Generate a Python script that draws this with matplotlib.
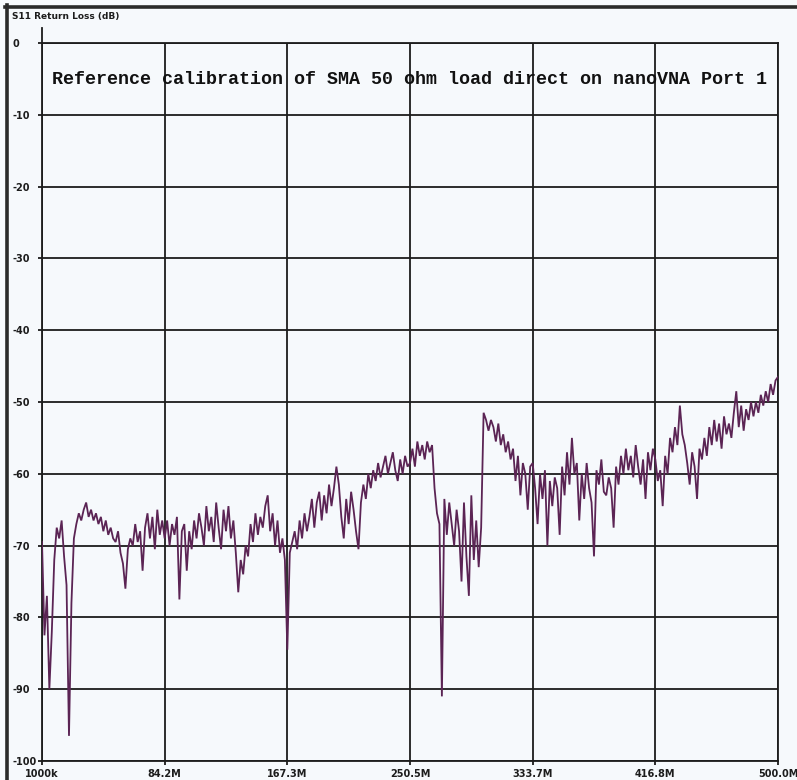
#!/usr/bin/env python3
"""
S11 return loss of an SMA 50 ohm load on nanoVNA port 1
"""

import numpy as np
import matplotlib
matplotlib.use('Agg')
import matplotlib.pyplot as plt
from matplotlib.lines import Line2D

# Sweep: 1 MHz .. 500 MHz, 301 points
f_start = 1.0
f_stop = 500.0
s11_db = [
    -69.5, -82.5, -77.0, -90.0, -82.0, -72.0, -67.5, -69.0, -66.5, -71.5,
    -75.5, -96.5, -78.0, -69.0, -67.0, -65.5, -66.5, -65.0, -64.0, -66.0,
    -65.0, -66.5, -65.5, -67.0, -66.0, -68.0, -66.5, -68.5, -67.5, -69.0,
    -69.5, -68.0, -71.0, -72.5, -76.0, -70.5, -69.0, -70.0, -67.0, -69.5,
    -68.0, -73.5, -67.5, -65.5, -69.0, -66.0, -70.5, -65.0, -68.5, -66.5,
    -69.0, -66.5, -70.0, -67.0, -68.5, -66.0, -77.5, -68.0, -67.0, -73.5,
    -68.0, -70.5, -66.5, -69.0, -65.5, -67.5, -70.0, -64.5, -68.0, -66.0,
    -69.5, -64.0, -67.5, -70.5, -65.0, -68.0, -64.5, -69.0, -66.5, -71.0,
    -76.5, -72.0, -74.0, -70.0, -71.5, -67.0, -69.5, -65.5, -68.5, -66.0,
    -67.5, -64.5, -63.0, -68.0, -65.5, -70.0, -66.5, -71.0, -69.0, -72.0,
    -84.5, -71.0, -69.5, -68.0, -70.5, -66.5, -69.0, -65.5, -68.0, -66.0,
    -63.5, -67.5, -64.0, -62.5, -66.5, -63.0, -65.5, -61.5, -64.5, -62.0,
    -59.0, -61.5, -66.0, -69.0, -63.5, -67.0, -62.5, -65.0, -68.0, -70.5,
    -64.0, -61.5, -63.5, -60.0, -62.0, -59.5, -61.0, -58.5, -60.5, -59.0,
    -57.5, -60.0, -58.5, -57.0, -59.5, -61.0, -58.0, -60.0, -57.5, -59.0,
    -58.5, -56.5, -59.0, -55.5, -57.5, -56.0, -58.0, -55.5, -57.0, -56.0,
    -62.0, -65.5, -67.0, -91.0, -63.5, -68.5, -64.0, -67.0, -70.0, -65.0,
    -68.0, -75.0, -64.0, -71.5, -77.0, -63.0, -72.0, -66.5, -73.0, -67.5,
    -51.5, -52.5, -54.0, -52.5, -53.5, -55.5, -53.0, -56.0, -54.5, -57.0,
    -55.5, -58.0, -56.5, -61.0, -57.5, -63.0, -58.5, -60.0, -65.0, -59.0,
    -58.5, -62.0, -67.0, -60.0, -63.5, -59.5, -70.0, -61.0, -64.5, -60.5,
    -62.0, -68.5, -59.0, -63.0, -57.0, -61.5, -55.0, -60.0, -58.5, -66.5,
    -60.0, -63.5, -58.5, -62.0, -64.0, -71.5, -59.5, -61.5, -58.0, -62.5,
    -63.0, -60.5, -62.0, -67.5, -59.0, -61.5, -57.5, -60.0, -56.5, -59.5,
    -57.5, -60.5, -56.0, -59.0, -61.5, -58.0, -63.5, -57.0, -59.5, -56.5,
    -58.0, -61.0, -59.5, -64.5, -57.5, -60.0, -55.0, -57.0, -53.5, -56.0,
    -50.5, -54.5, -56.0, -58.5, -61.5, -57.0, -59.0, -63.5, -56.5, -58.0,
    -55.0, -57.5, -53.5, -56.0, -52.5, -55.5, -53.0, -56.5, -52.0, -54.5,
    -53.0, -55.0, -51.5, -48.5, -53.5, -50.5, -54.0, -51.0, -52.5, -50.0,
    -52.0, -50.0, -51.5, -49.0, -50.5, -48.5, -50.0, -47.5, -49.0, -47.0,
    -46.5,
]

x_ticks = [1.0, 84.2, 167.3, 250.5, 333.7, 416.8, 500.0]
x_labels = ['1000k', '84.2M', '167.3M', '250.5M', '333.7M', '416.8M', '500.0M']
y_ticks = [0, -10, -20, -30, -40, -50, -60, -70, -80, -90, -100]

title = 'Reference calibration of SMA 50 ohm load direct on nanoVNA Port 1'

W, H = 797, 780
bg = '#f6f9fc'
ink = '#1c1c1c'
trace = '#5b2454'

freq = np.linspace(f_start, f_stop, len(s11_db))

fig = plt.figure(figsize=(W / 100, H / 100), dpi=100, facecolor=bg)

# plot area in pixel coordinates from the screenshot
left, right, top, bottom = 42, 778, 43, 761
ax = fig.add_axes([left / W, 1 - bottom / H, (right - left) / W, (bottom - top) / H])
ax.set_facecolor(bg)

ax.plot(freq, s11_db, color=trace, linewidth=1.3, solid_joinstyle='miter', zorder=3)

ax.set_xlim(f_start, f_stop)
ax.set_ylim(-100, 0)
ax.set_xticks(x_ticks)
ax.set_xticklabels(x_labels)
ax.set_yticks(y_ticks)
ax.set_yticklabels([str(v) for v in y_ticks])

ax.grid(True, color=ink, linewidth=1.3, zorder=1)
ax.set_axisbelow(True)
for side in ['left', 'right', 'top', 'bottom']:
    ax.spines[side].set_color(ink)
    ax.spines[side].set_linewidth(1.3)

ax.tick_params(axis='both', direction='out', length=3, width=1.3, color=ink,
               labelsize=7, labelcolor=ink)
ax.tick_params(axis='y', pad=18)
ax.tick_params(axis='x', pad=3)
for lab in ax.get_yticklabels():
    lab.set_horizontalalignment('left')
    lab.set_fontweight('bold')
for lab in ax.get_xticklabels():
    lab.set_fontweight('bold')

# axis caption at top left
fig.text(12 / W, 1 - 17 / H, 'S11 Return Loss (dB)', fontsize=6.5, fontweight='bold',
         color=ink, ha='left', va='center')

# title inside the chart
fig.text(52 / W, 1 - 80 / H, title, family=['Liberation Mono', 'DejaVu Sans Mono'],
         fontsize=13.2, fontweight='heavy', color='#111111', ha='left', va='center')

# left axis line sticks up above the plot a little
fig.add_artist(Line2D([left / W, left / W], [1 - 28 / H, 1 - top / H],
                      color=ink, linewidth=1.3))

# dark window frame along top and left edge
fig.add_artist(Line2D([5 / W, 1.0], [1 - 6.5 / H, 1 - 6.5 / H], color='#2a2a2a', linewidth=2.6))
fig.add_artist(Line2D([6.5 / W, 6.5 / W], [0.0, 1 - 5 / H], color='#2a2a2a', linewidth=2.6))

fig.savefig('out.png', dpi=100, facecolor=bg)
plt.close(fig)
